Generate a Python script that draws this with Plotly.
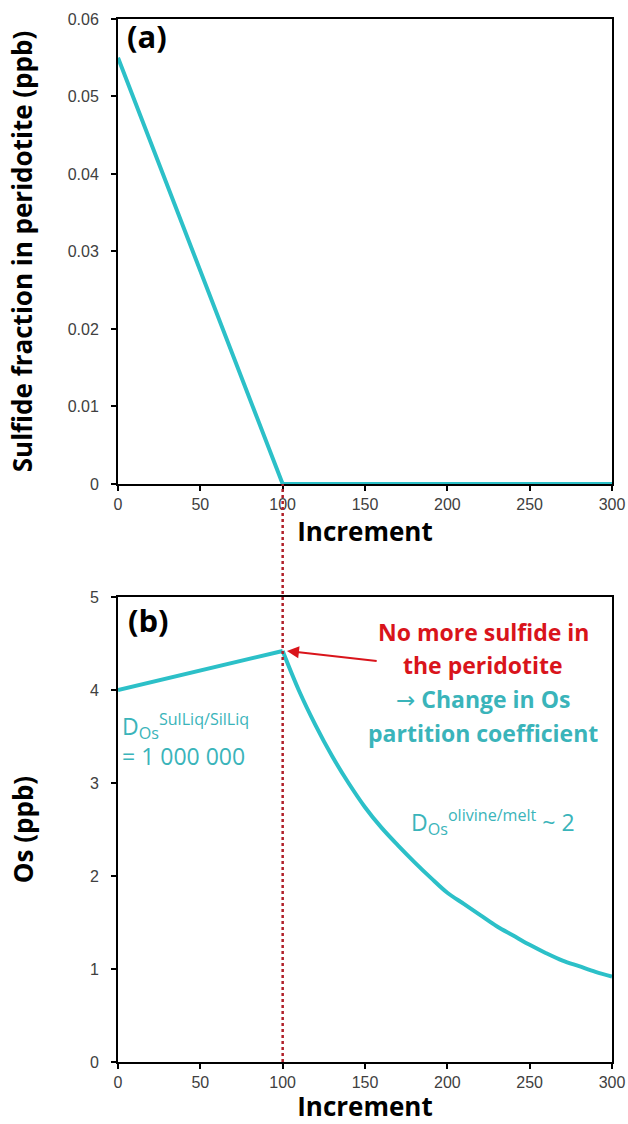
import plotly.graph_objects as go
from plotly.subplots import make_subplots

# (a) sulfide fraction in peridotite
sulf_x = [0, 100, 300]
sulf_y = [0.055, 0.0, 0.0]

# (b) Os in residue - sulfide-controlled part, then olivine-controlled part
os_rise_x = [0, 50, 100]
os_rise_y = [4.0, 4.21, 4.42]
os_fall_x = [100, 110, 120, 130, 140, 150, 160, 170, 180, 190, 200,
             210, 220, 230, 240, 250, 260, 270, 280, 290, 300]
os_fall_y = [4.42, 3.99, 3.62, 3.29, 3.00, 2.74, 2.52, 2.33, 2.15, 1.98, 1.82,
             1.70, 1.58, 1.46, 1.36, 1.26, 1.17, 1.09, 1.03, 0.97, 0.92]

x_ticks = [0, 50, 100, 150, 200, 250, 300]
sulf_ticks = [0, 0.01, 0.02, 0.03, 0.04, 0.05, 0.06]
os_ticks = [0, 1, 2, 3, 4, 5]
x_break = 100

cyan = "#2CC0C8"
cyan_txt = "#3AB4BA"
red = "#D9141B"
FONT = "Open Sans, Noto Sans, sans-serif"
title_font = dict(family=FONT, size=26, color="black")
tick_font = dict(family="Liberation Sans, Arial", size=16, color="#404040")

top_dom = [0.5542, 1.0]
bot_dom = [0.0, 0.4458]

fig = make_subplots(rows=2, cols=1, vertical_spacing=0.0)

fig.add_trace(go.Scatter(x=sulf_x, y=sulf_y, mode="lines",
                         line=dict(color=cyan, width=4), showlegend=False), row=1, col=1)
fig.add_trace(go.Scatter(x=os_rise_x, y=os_rise_y, mode="lines",
                         line=dict(color=cyan, width=4), showlegend=False), row=2, col=1)
fig.add_trace(go.Scatter(x=os_fall_x, y=os_fall_y, mode="lines", line_shape="spline",
                         line=dict(color=cyan, width=4), showlegend=False), row=2, col=1)

axis_common = dict(showline=True, linecolor="black", linewidth=2, mirror=True,
                   ticks="outside", ticklen=5, tickcolor="black", tickwidth=1.5,
                   showgrid=False, zeroline=False, tickfont=tick_font, automargin=False)

fig.update_xaxes(range=[0, 300], tickvals=x_ticks, **axis_common)
fig.update_xaxes(title=dict(text="<b>Increment</b>", font=title_font, standoff=7), row=1, col=1)
fig.update_xaxes(title=dict(text="<b>Increment</b>", font=title_font, standoff=7), row=2, col=1)
fig.update_yaxes(range=[0, 0.06], tickvals=sulf_ticks, ticklabelstandoff=9,
                 ticktext=["0", "0.01", "0.02", "0.03", "0.04", "0.05", "0.06"],
                 title=dict(text="<b>Sulfide fraction in peridotite (ppb)</b>", font=title_font, standoff=28),
                 row=1, col=1, **axis_common)
fig.update_yaxes(range=[0, 5], tickvals=os_ticks, ticklabelstandoff=9,
                 title=dict(text="<b>Os (ppb)</b>", font=title_font, standoff=49),
                 row=2, col=1, **axis_common)

fig.update_layout(
    width=628, height=1124,
    margin=dict(l=118, r=16, t=19, b=62),
    paper_bgcolor="white", plot_bgcolor="white",
    yaxis=dict(domain=top_dom),
    yaxis2=dict(domain=bot_dom),
)

# dotted marker linking both panels at the end of sulfide
fig.add_shape(type="line", xref="x", yref="paper", x0=x_break, x1=x_break,
              y0=0, y1=top_dom[0], line=dict(color="#B0202A", width=2.5, dash="dot"))

label_font = dict(family=FONT, size=31, color="black")
fig.add_annotation(x=0.015, y=1.012, xref="x domain", yref="y domain", text="<b>(a)</b>",
                   showarrow=False, xanchor="left", yanchor="top", font=label_font)
fig.add_annotation(x=0.017, y=1.0, xref="x2 domain", yref="y2 domain", text="<b>(b)</b>",
                   showarrow=False, xanchor="left", yanchor="top", font=label_font)

ann_font = dict(family=FONT, size=23)
note_lines = [("<b>No more sulfide in</b>", 4.62, red),
              ("<b>the peridotite</b>", 4.265, red),
              ("<span style='font-family:DejaVu Sans;font-weight:normal'>\u2192</span>"
               "<b> Change in Os</b>", 3.90, cyan_txt),
              ("<b>partition coefficient</b>", 3.535, cyan_txt)]
for txt, yv, col in note_lines:
    fig.add_annotation(x=221.7, y=yv, xref="x2", yref="y2", text=txt,
                       showarrow=False, font=dict(color=col, **ann_font))

fig.add_annotation(x=102.6, y=4.42, ax=158, ay=4.31, xref="x2", yref="y2",
                   axref="x2", ayref="y2", text="", showarrow=True,
                   arrowhead=2, arrowsize=1.2, arrowwidth=2, arrowcolor=red)
fig.add_annotation(x=1, y=3.46, xref="x2", yref="y2", xanchor="left",
                   text="D<sub>Os</sub><sup>SulLiq/SilLiq</sup><br>= 1 000 000",
                   showarrow=False, align="left",
                   font=dict(family=FONT, size=23, color=cyan_txt))
fig.add_annotation(x=176.8, y=2.58, xref="x2", yref="y2", xanchor="left",
                   text="D<sub>Os</sub><sup>olivine/melt</sup> ~ 2",
                   showarrow=False,
                   font=dict(family=FONT, size=23, color=cyan_txt))

fig.write_html("out.html", config={"displayModeBar": False},
               post_script="document.body.style.margin='0';")
